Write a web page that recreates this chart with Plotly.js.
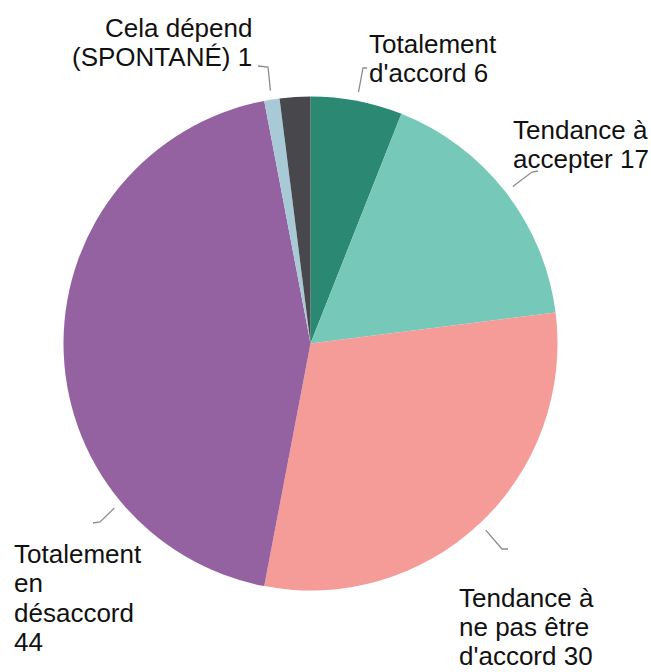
<!DOCTYPE html>
<html>
<head>
<meta charset="utf-8">
<script src="https://cdn.plot.ly/plotly-3.0.1.min.js"></script>
<style>html,body{margin:0;padding:0;background:#fff;}#chart{width:651px;height:672px;}</style>
</head>
<body>
<div id="chart"></div>
<script>
// ---- data ----
var categories = ["Totalement d'accord", "Tendance à accepter", "Tendance à ne pas être d'accord", "Totalement en désaccord", "Cela dépend (SPONTANÉ)", "Ne sait pas"];
var values = [6, 17, 30, 44, 1, 2];
var colors = ["#2a8873", "#76c8b8", "#f59b98", "#9461a1", "#a8cad6", "#48484c"];
// label line breaks (text shown next to slices); last slice unlabeled
var labelLines = [
  ["Totalement", "d'accord 6"],
  ["Tendance à", "accepter 17"],
  ["Tendance à", "ne pas être", "d'accord 30"],
  ["Totalement", "en", "désaccord", "44"],
  ["Cela dépend", "(SPONTANÉ) 1"],
  null
];

// ---- layout (pixels) ----
var W = 651, H = 672;
var cx = 310.5, cy = 343.5, R = 247;
var fontSize = 26, lineGap = 29.3;
// text anchor (x, first baseline, align) and leader elbow points
var labelPlace = [
  {x: 368, y: 53, align: "left", path: [[363, 68], [367, 68]]},
  {x: 512, y: 139, align: "left", path: [[532, 172], [538, 171]]},
  {x: 458, y: 607, align: "left", path: [[502, 549], [508, 549]], gap: 28.8},
  {x: 13, y: 563, align: "left", path: [[100, 522], [93, 523]], angle: 230},
  {x: 253, y: 37, align: "right", path: [[268, 67], [258, 66]]},
  null
];

function px(x) { return x / W; }
function py(y) { return 1 - y / H; }

var total = values.reduce(function (a, b) { return a + b; }, 0);
var annotations = [], shapes = [];
var cum = 0;
values.forEach(function (v, i) {
  var mid = (cum + v / 2) / total * 360;
  cum += v;
  var lp = labelPlace[i];
  if (!lp || !labelLines[i]) return;
  var ang = (lp.angle !== undefined ? lp.angle : mid) * Math.PI / 180;
  var sx = cx + (R + 9) * Math.sin(ang), sy = cy - (R + 9) * Math.cos(ang);
  var d = "M" + px(sx) + "," + py(sy);
  lp.path.forEach(function (p) { d += " L" + px(p[0]) + "," + py(p[1]); });
  shapes.push({type: "path", xref: "paper", yref: "paper", path: d, line: {color: "#8c8c8c", width: 1.3}});
  var g = lp.gap || lineGap;
  labelLines[i].forEach(function (t, k) {
    var base = lp.y + k * g;
    annotations.push({
      xref: "paper", yref: "paper", x: px(lp.x), y: py(base - 0.34 * fontSize),
      xanchor: lp.align, yanchor: "middle", showarrow: false, text: t,
      font: {family: "Liberation Sans, Arial, sans-serif", size: fontSize, color: "#111111"},
      borderpad: 0
    });
  });
});

var trace = {
  type: "pie",
  labels: categories,
  values: values,
  sort: false,
  direction: "clockwise",
  rotation: 0,
  textinfo: "none",
  hoverinfo: "label+value",
  marker: {colors: colors, line: {width: 0}},
  domain: {x: [px(cx - R), px(cx + R)], y: [py(cy + R), py(cy - R)]},
  showlegend: false
};

var layout = {
  width: W, height: H,
  margin: {l: 0, r: 0, t: 0, b: 0},
  paper_bgcolor: "#ffffff",
  showlegend: false,
  annotations: annotations,
  shapes: shapes
};

Plotly.newPlot("chart", [trace], layout, {displayModeBar: false, staticPlot: true});
</script>
</body>
</html>
